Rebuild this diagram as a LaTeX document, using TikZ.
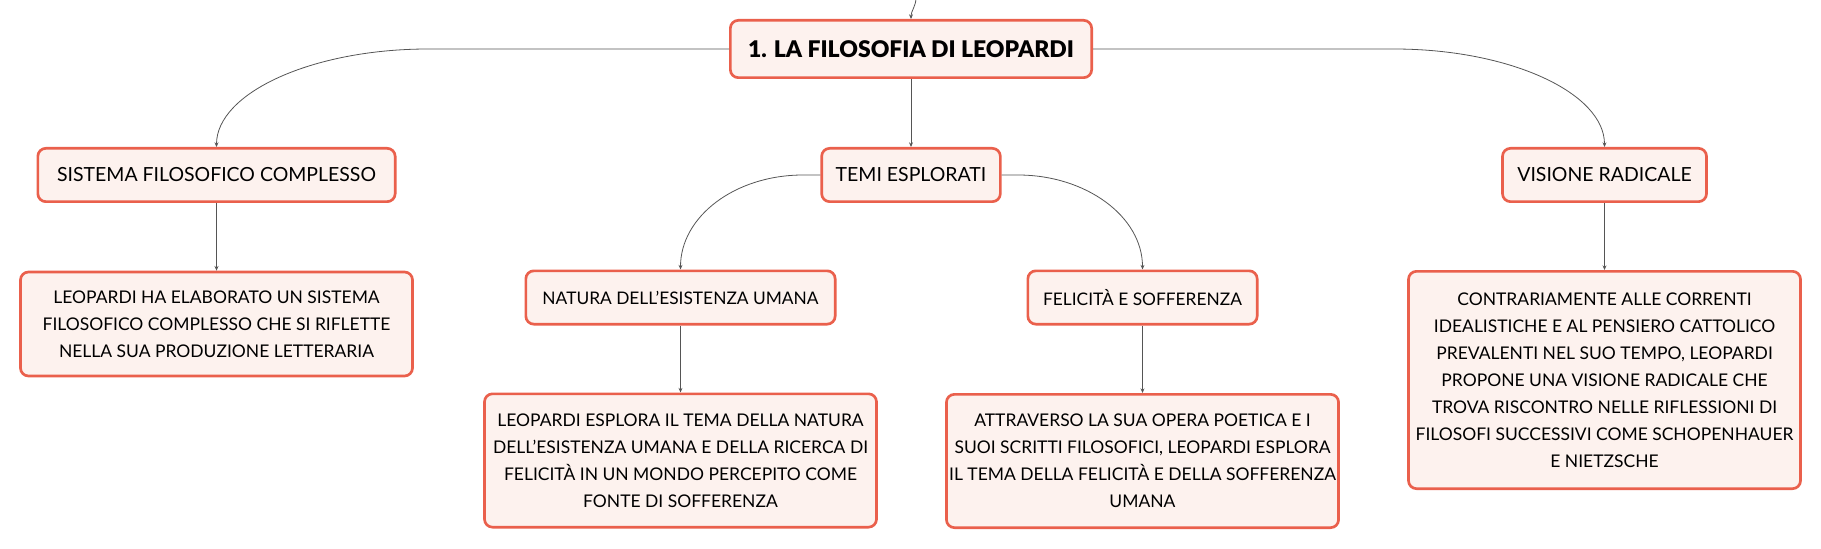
\documentclass[tikz,border=0pt]{standalone}
\usepackage{fontspec}
\setmainfont{Lato}
\newfontfamily\rootfont{Lato Black}
\usetikzlibrary{arrows.meta}
\definecolor{boxred}{RGB}{234,96,76}
\definecolor{boxfill}{RGB}{253,242,238}
\definecolor{wirecol}{RGB}{85,85,85}
\begin{document}
\begin{tikzpicture}[x=0.75pt,y=-0.75pt,>={Stealth[length=3.5pt,width=3pt]},
	box/.style={draw=boxred,fill=boxfill,line width=2pt,rounded corners=6pt,inner sep=2pt,align=center,text=black},
	topic/.style={box,minimum height=40pt,font=\fontsize{14.6}{18}\selectfont},
	subtopic/.style={box,minimum height=40pt,font=\fontsize{13}{18}\selectfont},
	leaf/.style={box,minimum width=294pt,font=\fontsize{13.1}{20.2}\selectfont},
	wire/.style={->,draw=wirecol,line width=0.6pt}]
	\useasboundingbox (0,0) rectangle (1821,549);
	\node[box,minimum width=271pt,minimum height=43pt,font=\rootfont\fontsize{17.2}{20}\selectfont] (root) at (911,49) {1. LA FILOSOFIA DI LEOPARDI};
	\node[topic,minimum width=268pt] (sis) at (216.5,175) {SISTEMA FILOSOFICO COMPLESSO};
	\node[topic,minimum width=134pt] (temi) at (911,175) {TEMI ESPLORATI};
	\node[topic,minimum width=153pt] (vis) at (1604.5,175) {VISIONE RADICALE};
	\node[subtopic,minimum width=232pt] (nat) at (680.5,297.5) {NATURA DELL'ESISTENZA UMANA};
	\node[subtopic,minimum width=172pt] (fel) at (1142.5,297.5) {FELICITÀ E SOFFERENZA};
	\node[leaf,minimum height=78pt] (sisleaf) at (216.5,324) {LEOPARDI HA ELABORATO UN SISTEMA\\FILOSOFICO COMPLESSO CHE SI RIFLETTE\\NELLA SUA PRODUZIONE LETTERARIA};
	\node[leaf,minimum height=100pt] (natleaf) at (680.5,460.5) {LEOPARDI ESPLORA IL TEMA DELLA NATURA\\DELL'ESISTENZA UMANA E DELLA RICERCA DI\\FELICITÀ IN UN MONDO PERCEPITO COME\\FONTE DI SOFFERENZA};
	\node[leaf,minimum height=100pt] (felleaf) at (1142.5,461) {ATTRAVERSO LA SUA OPERA POETICA E I\\SUOI SCRITTI FILOSOFICI, LEOPARDI ESPLORA\\IL TEMA DELLA FELICITÀ E DELLA SOFFERENZA\\UMANA};
	\node[leaf,minimum height=163pt] (visleaf) at (1604.5,380) {CONTRARIAMENTE ALLE CORRENTI\\IDEALISTICHE E AL PENSIERO CATTOLICO\\PREVALENTI NEL SUO TEMPO, LEOPARDI\\PROPONE UNA VISIONE RADICALE CHE\\TROVA RISCONTRO NELLE RIFLESSIONI DI\\FILOSOFI SUCCESSIVI COME SCHOPENHAUER\\E NIETZSCHE};
	\coordinate (up) at (916,-2);
	\coordinate (sisbend) at (428,49);
	\coordinate (visbend) at (1394,49);
	\coordinate (natbend) at (803,175);
	\coordinate (felbend) at (1018,175);
	\draw[wire] (up) .. controls +(0,8) and +(0,-8) .. (root.north);
	\draw[wire] (root.west) -- (sisbend) .. controls +(-116,0) and +(0,-54) .. (sis.north);
	\draw[wire] (root.east) -- (visbend) .. controls +(116,0) and +(0,-54) .. (vis.north);
	\draw[wire] (root.south) -- (temi.north);
	\draw[wire] (temi.west) -- (natbend) .. controls +(-68,0) and +(0,-53) .. (nat.north);
	\draw[wire] (temi.east) -- (felbend) .. controls +(68,0) and +(0,-53) .. (fel.north);
	\draw[wire] (sis.south) -- (sisleaf.north);
	\draw[wire] (nat.south) -- (natleaf.north);
	\draw[wire] (fel.south) -- (felleaf.north);
	\draw[wire] (vis.south) -- (visleaf.north);
\end{tikzpicture}
\end{document}
